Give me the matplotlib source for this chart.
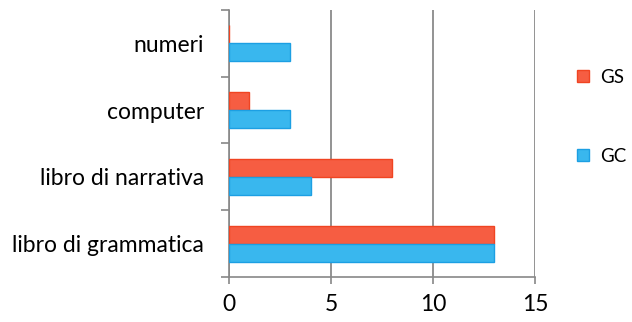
import matplotlib.pyplot as plt
import numpy as np

categorie = ['libro di grammatica', 'libro di narrativa', 'computer', 'numeri']
gs = [13, 8, 1, 0]
gc = [13, 4, 3, 3]
x_ticks = [0, 5, 10, 15]

plt.rcParams['font.family'] = ['Lato', 'DejaVu Sans']

fig = plt.figure(figsize=(6.32, 3.22), dpi=100)
ax = fig.add_axes([0.362, 0.140, 0.485, 0.829])

y = np.arange(len(categorie))
h = 0.27
ax.barh(y + h / 2, gs, height=h, color='#F65D42', edgecolor='#F04422', linewidth=1, label='GS', zorder=3)
ax.barh(y - h / 2, gc, height=h, color='#39B7EE', edgecolor='#1C9FE3', linewidth=1, label='GC', zorder=3)

ax.set_xlim(0, 15)
ax.set_ylim(-0.5, len(categorie) - 0.5)
ax.set_xticks(x_ticks)
ax.set_xticklabels([str(t) for t in x_ticks], fontsize=16.5)
ax.set_yticks(y)
ax.set_yticklabels(categorie, fontsize=16.5)
ax.set_yticks(np.arange(len(categorie) + 1) - 0.5, minor=True)
ax.tick_params(axis='y', which='major', length=0, pad=18)
ax.tick_params(axis='y', which='minor', length=6, color='#888888', width=1.2)
ax.tick_params(axis='x', length=5, color='#888888', width=1.2, pad=7)

ax.grid(axis='x', color='#808080', linewidth=1.2, zorder=0)
for s in ['top', 'right']:
    ax.spines[s].set_visible(False)
for s in ['left', 'bottom']:
    ax.spines[s].set_color('#888888')
    ax.spines[s].set_linewidth(1.2)

ax.legend(loc='center left', bbox_to_anchor=(1.113, 0.6), frameon=False,
          fontsize=13.5, handlelength=0.6, handleheight=0.6, labelspacing=3.3,
          handletextpad=0.6, borderaxespad=0)

fig.savefig('out.png', dpi=100)
